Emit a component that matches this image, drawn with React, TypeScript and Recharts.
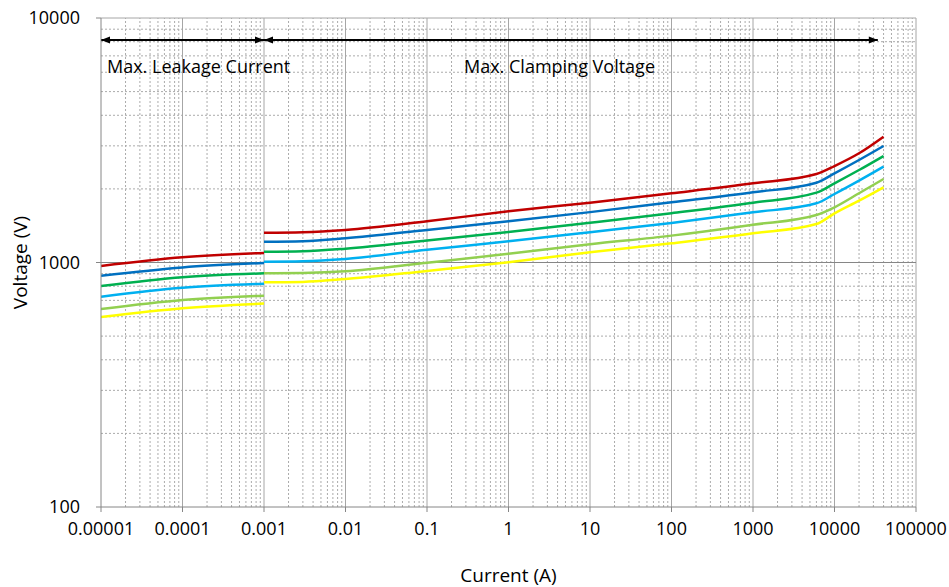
import React from "react";
import {
  ComposedChart,
  Line,
  XAxis,
  YAxis,
  ReferenceLine,
  ReferenceDot,
} from "recharts";

// ---- axis ticks ----
const xTicks = [1e-5, 1e-4, 1e-3, 0.01, 0.1, 1, 10, 100, 1000, 10000, 100000];
const xTickLabels = ["0.00001", "0.0001", "0.001", "0.01", "0.1", "1", "10", "100", "1000", "10000", "100000"];
const yTicks = [100, 1000, 10000];
const yTickLabels = ["100", "1000", "10000"];

// ---- leakage current segment (A) ----
const leakX = [1e-5, 1e-4, 1e-3];
const redLeak = [968, 1050, 1094];
const blueLeak = [883, 955, 995];
const greenLeak = [801, 870, 903];
const lightBlueLeak = [725, 789, 819];
const lightGreenLeak = [645, 703, 732];
const yellowLeak = [598, 650, 679];

// ---- clamping voltage segment ----
const clampX = [0.001, 0.003, 0.01, 0.1, 1, 10, 100, 1000, 6000, 10000, 20000, 40000];
const redClamp = [1324, 1330, 1358, 1474, 1620, 1756, 1919, 2108, 2301, 2481, 2797, 3270];
const blueClamp = [1216, 1222, 1256, 1359, 1475, 1607, 1763, 1937, 2120, 2316, 2626, 2996];
const greenClamp = [1107, 1112, 1139, 1230, 1334, 1454, 1591, 1756, 1930, 2108, 2389, 2727];
const lightBlueClamp = [1008, 1012, 1034, 1127, 1222, 1331, 1452, 1604, 1746, 1906, 2161, 2465];
const lightGreenClamp = [903, 906, 920, 998, 1085, 1188, 1288, 1427, 1564, 1682, 1919, 2195];
const yellowClamp = [830, 833, 856, 924, 1002, 1101, 1198, 1316, 1437, 1589, 1790, 2030];

// ---- annotations ----
const arrowY = 8130;
const leakArrowX = [1e-5, 1e-3];
const clampArrowX = [1e-3, 34000];
const leakLabel = "Max. Leakage Current";
const clampLabel = "Max. Clamping Voltage";
const labelY = 6370;
const leakLabelX = 1e-5;
const clampLabelX = 0.24;

const series = [
  { color: "#C00000", leak: redLeak, clamp: redClamp },
  { color: "#0070C0", leak: blueLeak, clamp: blueClamp },
  { color: "#00B050", leak: greenLeak, clamp: greenClamp },
  { color: "#00B0F0", leak: lightBlueLeak, clamp: lightBlueClamp },
  { color: "#92D050", leak: lightGreenLeak, clamp: lightGreenClamp },
  { color: "#FFFF00", leak: yellowLeak, clamp: yellowClamp },
];

const toData = (xs: number[], ys: number[]) => xs.map((x, i) => ({ x, v: ys[i] }));

const minorValues = (ticks: number[]) => {
  const out: number[] = [];
  for (let i = 0; i < ticks.length - 1; i++) {
    for (let m = 2; m <= 9; m++) out.push(ticks[i] * m);
  }
  return out;
};
const xMinor = minorValues(xTicks);
const yMinor = minorValues(yTicks);

const FONT = "'Open Sans', sans-serif";
const GRID = "#ababab";
const MAJOR = "#a6a6a6";
const AXIS = "#868686";

const ArrowDot = (props: any) => {
  const { cx, cy, index } = props;
  if (cx == null || cy == null) return null;
  const len = 9;
  const hw = 3.5;
  const pts =
    index === 0
      ? `${cx},${cy} ${cx + len},${cy - hw} ${cx + len},${cy + hw}`
      : `${cx},${cy} ${cx - len},${cy - hw} ${cx - len},${cy + hw}`;
  return <polygon key={`a-${index}-${cx}`} points={pts} fill="#000" stroke="none" />;
};

const textLabel = (value: string) => (props: any) => {
  const vb = props.viewBox || {};
  return (
    <text
      x={vb.x + 6}
      y={vb.y + (vb.height || 0) / 2}
      dominantBaseline="central"
      textAnchor="start"
      fontFamily={FONT}
      fontSize={18}
      fill="#000"
    >
      {value}
    </text>
  );
};

export default function App() {
  return (
    <div style={{ position: "absolute", left: 0, top: 0, width: 949, height: 587, background: "#fff" }}>
      <ComposedChart
        width={949}
        height={587}
        margin={{ top: 18, right: 33, left: 0, bottom: 0 }}
      >
        <XAxis
          dataKey="x"
          type="number"
          scale="log"
          domain={[1e-5, 1e5]}
          ticks={xTicks}
          allowDataOverflow
          interval={0}
          height={80}
          tickSize={5}
          tickMargin={10}
          stroke={AXIS}
          tickLine={{ stroke: AXIS }}
          axisLine={{ stroke: AXIS }}
          tick={{ fill: "#000", fontSize: 18, fontFamily: FONT }}
          tickFormatter={(v: number) => xTickLabels[xTicks.indexOf(v)] ?? String(v)}
          label={{
            value: "Current (A)",
            position: "insideBottom",
            offset: 5,
            style: { fill: "#000", fontSize: 19, fontFamily: FONT },
          }}
        />
        <YAxis
          dataKey="v"
          type="number"
          scale="log"
          domain={[100, 10000]}
          ticks={yTicks}
          allowDataOverflow
          interval={0}
          width={101}
          tickSize={5}
          tickMargin={16}
          stroke={AXIS}
          tickLine={{ stroke: AXIS }}
          axisLine={{ stroke: AXIS }}
          tick={{ fill: "#000", fontSize: 18, fontFamily: FONT }}
          tickFormatter={(v: number) => yTickLabels[yTicks.indexOf(v)] ?? String(v)}
          label={{
            value: "Voltage (V)",
            angle: -90,
            position: "insideLeft",
            offset: 20,
            style: { fill: "#000", fontSize: 19, fontFamily: FONT, textAnchor: "middle" },
          }}
        />

        {xMinor.map((v) => (
          <ReferenceLine key={`xm-${v}`} x={v} stroke={GRID} strokeDasharray="2 2" strokeWidth={1} />
        ))}
        {yMinor.map((v) => (
          <ReferenceLine key={`ym-${v}`} y={v} stroke={GRID} strokeDasharray="2 2" strokeWidth={1} />
        ))}
        {xTicks.slice(1).map((v) => (
          <ReferenceLine key={`xM-${v}`} x={v} stroke={MAJOR} strokeWidth={1} />
        ))}
        <ReferenceLine y={1000} stroke={AXIS} strokeWidth={1} />
        <ReferenceLine y={10000} stroke={MAJOR} strokeWidth={1} />

        {series.map((s, i) => (
          <Line
            key={`leak-${i}`}
            data={toData(leakX, s.leak)}
            dataKey="v"
            type="monotone"
            stroke={s.color}
            strokeWidth={2.5}
            dot={false}
            activeDot={false}
            isAnimationActive={false}
          />
        ))}
        {series.map((s, i) => (
          <Line
            key={`clamp-${i}`}
            data={toData(clampX, s.clamp)}
            dataKey="v"
            type="monotone"
            stroke={s.color}
            strokeWidth={2.5}
            dot={false}
            activeDot={false}
            isAnimationActive={false}
          />
        ))}

        <Line
          data={leakArrowX.map((x) => ({ x, v: arrowY }))}
          dataKey="v"
          type="linear"
          stroke="#000"
          strokeWidth={2}
          dot={<ArrowDot />}
          activeDot={false}
          isAnimationActive={false}
        />
        <Line
          data={clampArrowX.map((x) => ({ x, v: arrowY }))}
          dataKey="v"
          type="linear"
          stroke="#000"
          strokeWidth={2}
          dot={<ArrowDot />}
          activeDot={false}
          isAnimationActive={false}
        />

        <ReferenceDot x={leakLabelX} y={labelY} r={0} stroke="none" fill="none" label={textLabel(leakLabel)} />
        <ReferenceDot x={clampLabelX} y={labelY} r={0} stroke="none" fill="none" label={textLabel(clampLabel)} />
      </ComposedChart>
    </div>
  );
}
